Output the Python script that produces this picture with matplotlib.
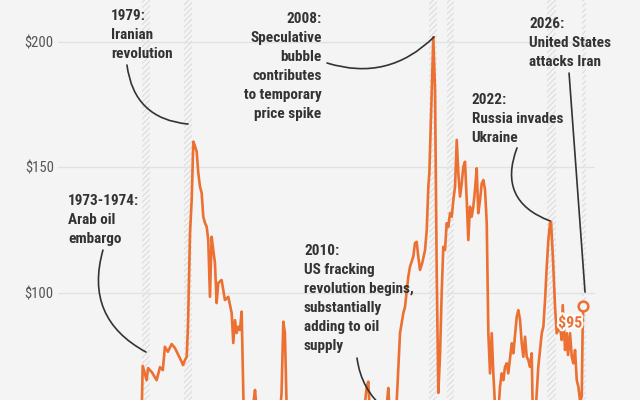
import matplotlib
matplotlib.use("Agg")
import matplotlib.pyplot as plt
import matplotlib.transforms as mtransforms
import matplotlib.patheffects as pe
from matplotlib import font_manager as fm

# ---------------- data ----------------
years = [1970.0, 1971.0, 1972.0, 1973.0, 1973.8, 1973.95, 1974.02, 1974.12, 1974.59, 1974.75,
         1975.2, 1975.77, 1976.17, 1976.5, 1976.75, 1977.1, 1977.55, 1977.94, 1978.73, 1978.89,
         1979.12, 1979.33, 1979.48, 1979.72, 1979.92, 1980.11, 1980.3, 1980.51, 1980.7, 1980.9,
         1981.1, 1981.29, 1981.49, 1981.69, 1981.88, 1982.08, 1982.28, 1982.47, 1982.67, 1982.87,
         1983.06, 1983.46, 1983.85, 1984.25, 1984.65, 1984.84, 1985.04, 1985.24, 1985.43, 1985.63,
         1985.83, 1986.1, 1986.5, 1987.0, 1987.41, 1987.7, 1988.5, 1989.5, 1990.3, 1990.55,
         1990.76, 1990.95, 1991.15, 1992.0, 1993.0, 1994.0, 1995.0, 1996.0, 1997.0, 1998.0,
         1998.9, 1999.5, 2000.2, 2000.45, 2000.63, 2000.82, 2001.0, 2001.9, 2002.5, 2003.0,
         2003.18, 2003.4, 2003.9, 2004.18, 2004.57, 2004.96, 2005.16, 2005.55, 2005.75, 2006.14,
         2006.34, 2006.54, 2006.73, 2006.93, 2007.2, 2007.53, 2007.73, 2007.92, 2008.04, 2008.32,
         2008.51, 2008.71, 2008.91, 2009.1, 2009.3, 2009.5, 2009.69, 2009.89, 2010.09, 2010.28,
         2010.49, 2010.69, 2010.88, 2011.08, 2011.28, 2011.47, 2011.67, 2011.87, 2012.06, 2012.26,
         2012.46, 2012.65, 2012.85, 2013.05, 2013.24, 2013.44, 2013.64, 2013.83, 2014.04, 2014.24,
         2014.43, 2014.63, 2014.83, 2015.02, 2015.22, 2015.42, 2015.61, 2015.81, 2016.05, 2016.25,
         2016.4, 2016.6, 2016.8, 2016.99, 2017.2, 2017.38, 2017.79, 2017.98, 2018.38, 2018.57,
         2018.77, 2018.97, 2019.16, 2019.36, 2019.56, 2019.75, 2019.95, 2020.15, 2020.34, 2020.6,
         2020.93, 2021.34, 2021.53, 2021.73, 2021.93, 2022.12, 2022.32, 2022.44, 2022.71, 2022.91,
         2023.11, 2023.5, 2023.7, 2023.82, 2024.1, 2024.3, 2024.45, 2024.69, 2024.89, 2025.08,
         2025.28, 2025.48, 2025.67, 2025.87, 2026.07, 2026.18, 2026.25]
prices = [24, 25, 24, 26, 30, 45, 55, 71.0, 65.3, 70.1,
          68.5, 65.3, 70.5, 69.3, 78.6, 76.6, 79.7, 78.1, 72.6, 71.3,
          73.3, 74.6, 86.6, 123.9, 137.1, 160.3, 158.6, 156.3, 147.8, 142.4,
          139.8, 130.4, 127.9, 126.4, 121.1, 98.5, 122.4, 117.1, 112.0, 96.0,
          104.0, 105.2, 97.2, 98.5, 92.0, 80.1, 89.2, 84.1, 86.6, 85.3,
          92.6, 48, 38, 50, 61.4, 50, 42, 48, 50, 60,
          88.6, 84.0, 55, 48, 44, 40, 42, 47, 45, 33,
          25, 38, 52, 57, 62.7, 64.7, 52, 38, 48, 55,
          62.2, 50, 53, 57, 84.1, 92.0, 94.5, 106.5, 110.5, 114.5,
          119.9, 120.4, 114.5, 109.2, 112, 117.1, 125.1, 142.4, 147.8, 180.9,
          201.9, 180.9, 109.2, 60.2, 75, 100, 118.4, 117.1, 127.8, 126.4,
          131.8, 130.4, 137.1, 142.4, 161.0, 147.7, 138.4, 143.7, 150.3, 152.3,
          137.1, 121.1, 134.4, 130.4, 134.4, 141.0, 149.7, 131.8, 137.1, 143.7,
          145.0, 141.0, 127.8, 84.0, 68.0, 84.0, 68.0, 55, 45, 55,
          62.7, 68.0, 65.3, 70.6, 72.0, 68.0, 80.0, 76.0, 90.6, 93.2,
          89.2, 80.0, 74.6, 82.6, 74.6, 73.3, 70.6, 76.0, 40, 52,
          70.6, 84.0, 86.6, 97.2, 110.5, 121.1, 127.8, 128.4, 110.5, 94.5,
          84.0, 86.6, 81.3, 95.2, 77.3, 84.0, 75.3, 84.0, 74.6, 72.0,
          77.3, 65.3, 62.7, 57.0, 58.7, 86.6, 95.0]

band_starts = [1974.0, 1979.0, 2008.0, 2010.1, 2022.0, 2026.1]
band_ends = [1975.0, 1980.0, 2009.0, 2011.0, 2023.0, 2026.6]

ytick_values = [100, 150, 200]
ytick_labels = ["$100", "$150", "$200"]

events = [
    ("1979:\nIranian\nrevolution", 1970.37, 208.8, "left", (1972.26, 190.8), (1979.48, 167.3), 0.4),
    ("1973-1974:\nArab oil\nembargo", 1965.31, 135.1, "left", (1969.42, 117.1), (1974.51, 76.5), 0.4),
    ("2008:\nSpeculative\nbubble\ncontributes\nto temporary\nprice spike", 1995.30, 207.7, "right",
     (1995.93, 191.6), (2008.59, 202.0), 0.3),
    ("2010:\nUS fracking\nrevolution begins,\nsubstantially\nadding to oil\nsupply", 1993.21, 115.0, "left",
     (1999.48, 74.1), (2002.9, 53.4), 0.2),
    ("2022:\nRussia invades\nUkraine", 2013.05, 175.2, "left", (2018.41, 157.8), (2022.32, 128.7), 0.5),
    ("2026:\nUnited States\nattacks Iran", 2019.87, 205.5, "left", (2024.57, 187.6), (2026.46, 100.4), 0.0),
]

latest_label = "$95"

# ---------------- style ----------------
names = {f.name for f in fm.fontManager.ttflist}
cond = next((n for n in ["Roboto Condensed", "Liberation Sans Narrow", "Roboto"] if n in names), "DejaVu Sans")
reg = next((n for n in ["Roboto Condensed", "Roboto", "Liberation Sans Narrow"] if n in names), "DejaVu Sans")

BG = "#f4f4f4"
ORANGE = "#ec7031"
DARK = "#333333"
plt.rcParams["hatch.linewidth"] = 0.8

fig = plt.figure(figsize=(6.4, 4.0), dpi=100, facecolor=BG)
ax = fig.add_axes([58 / 640, 0, 537 / 640, 1])
ax.set_facecolor(BG)
ax.set_xlim(1964.1, 2027.64)
ax.set_ylim(57.4, 216.7)

for s, e in zip(band_starts, band_ends):
    ax.axvspan(s, e, facecolor="none", edgecolor="#dcdcdc", hatch="//////", linewidth=0, zorder=1)

ax.set_yticks(ytick_values)
ax.set_yticklabels(ytick_labels, family=reg, fontsize=10.5, color="#555555")
ax.tick_params(axis="y", length=0, pad=3)
ax.set_xticks([])
ax.grid(axis="y", color="#e2e2e2", linewidth=1.0, zorder=0)
for sp in ax.spines.values():
    sp.set_visible(False)

ax.plot(years, prices, color=ORANGE, linewidth=1.9, solid_joinstyle="round", zorder=3, clip_on=True)
ax.plot([years[-1]], [prices[-1]], marker="o", markersize=7, markerfacecolor=BG,
        markeredgecolor=ORANGE, markeredgewidth=1.8, zorder=5)

ax.annotate(latest_label, xy=(years[-1], prices[-1]), xytext=(-13, -17), textcoords="offset pixels",
            ha="center", va="center", fontsize=11.5, fontweight="bold", family=cond, color=ORANGE,
            path_effects=[pe.withStroke(linewidth=3, foreground="white")], zorder=6)

step_px = 19
for text, tx, ty, ha, a, b, rad in events:
    for i, line in enumerate(text.split("\n")):
        tr = mtransforms.offset_copy(ax.transData, fig=fig, x=0, y=-i * step_px, units="dots")
        ax.text(tx, ty, line, transform=tr, ha=ha, va="baseline", fontsize=11, fontweight="bold",
                family=cond, color=DARK, zorder=6)
    ax.annotate("", xy=b, xytext=a, xycoords="data", textcoords="data", annotation_clip=False,
                arrowprops=dict(arrowstyle="-", color=DARK, linewidth=1.2,
                                connectionstyle=f"arc3,rad={rad}", shrinkA=0, shrinkB=0), zorder=4)

fig.savefig("out.png", dpi=100, facecolor=BG)
